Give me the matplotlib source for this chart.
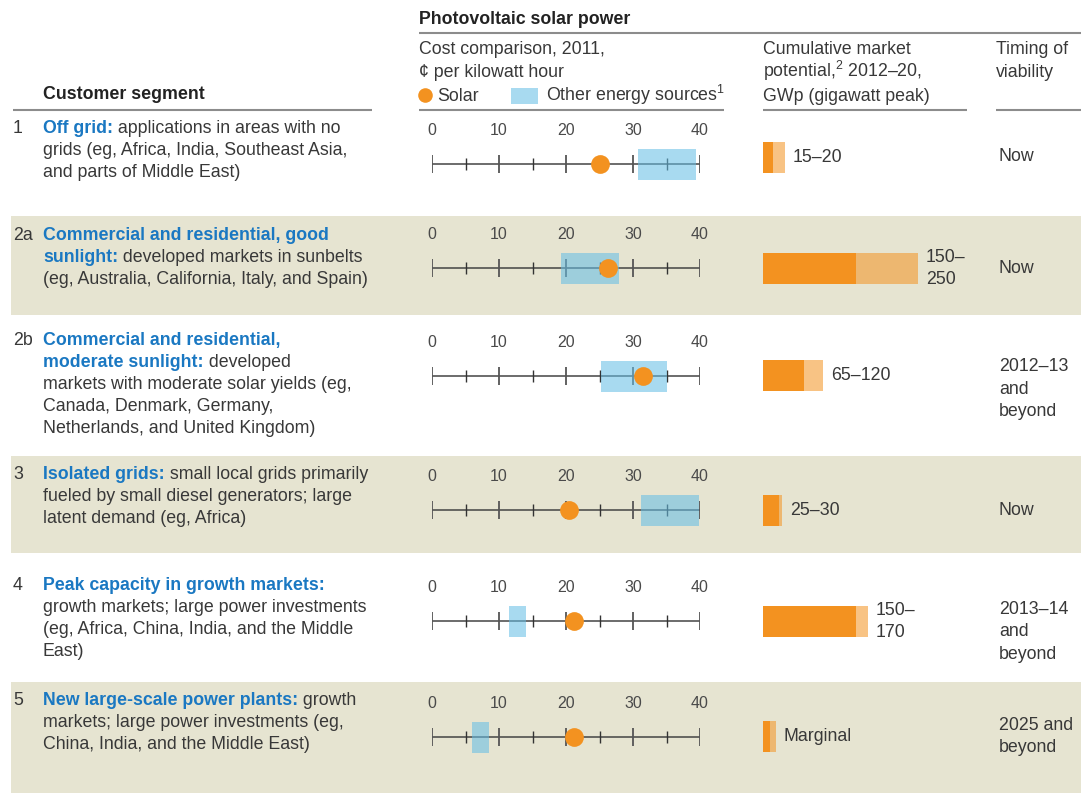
import matplotlib.pyplot as plt
from matplotlib.patches import Rectangle

W, H = 1091, 793

plt.rcParams['font.family'] = ['Liberation Sans', 'DejaVu Sans']
plt.rcParams['mathtext.fontset'] = 'custom'
plt.rcParams['mathtext.rm'] = 'Liberation Sans'

TXT = '#383838'
BLUE_TXT = '#1A78C2'
ORANGE = '#F39220'
SKY = '#66BEE5'
BEIGE = '#E6E4D1'
RULE = '#8C8C8C'
FS = 12.8

# Datos del gráfico
segment_ids = ["1", "2a", "2b", "3", "4", "5"]
segment_lines = [
    [("Off grid:", " applications in areas with no"),
     ("", "grids (eg, Africa, India, Southeast Asia,"),
     ("", "and parts of Middle East)")],
    [("Commercial and residential, good", ""),
     ("sunlight:", " developed markets in sunbelts"),
     ("", "(eg, Australia, California, Italy, and Spain)")],
    [("Commercial and residential,", ""),
     ("moderate sunlight:", " developed"),
     ("", "markets with moderate solar yields (eg,"),
     ("", "Canada, Denmark, Germany,"),
     ("", "Netherlands, and United Kingdom)")],
    [("Isolated grids:", " small local grids primarily"),
     ("", "fueled by small diesel generators; large"),
     ("", "latent demand (eg, Africa)")],
    [("Peak capacity in growth markets:", ""),
     ("", "growth markets; large power investments"),
     ("", "(eg, Africa, China, India, and the Middle"),
     ("", "East)")],
    [("New large-scale power plants:", " growth"),
     ("", "markets; large power investments (eg,"),
     ("", "China, India, and the Middle East)")],
]
cost_ticks = [0, 10, 20, 30, 40]
cost_minor = [5, 15, 25, 35]
solar_cost = [25.0, 26.3, 31.5, 20.4, 21.2, 21.2]
other_low = [30.7, 19.3, 25.2, 31.2, 11.5, 6.0]
other_high = [39.4, 27.9, 35.1, 39.9, 14.0, 8.5]
market_low = [16, 150, 66, 26, 150, 11]
market_high = [35, 250, 97, 31, 169, 21]
market_labels = ["15–20", "150–\n250", "65–120", "25–30", "150–\n170", "Marginal"]
timing = [["Now"], ["Now"], ["2012–13", "and", "beyond"], ["Now"],
          ["2013–14", "and", "beyond"], ["2025 and", "beyond"]]

# Disposición de las filas (pixeles)
band_top = [110, 216, 315, 456, 553, 682]
band_bottom = [216, 315, 456, 553, 682, 793]
shaded = [False, True, False, True, False, True]
text_base = [133, 240, 345, 479, 590, 705]
axis_y = [164, 268, 376, 510, 621, 737]
bar_y = [157.5, 268.5, 375.5, 510.5, 621.5, 736.5]
timing_base = [161, 273, 371, 515, 614, 730]

fig = plt.figure(figsize=(W / 100, H / 100), dpi=100)
ax = fig.add_axes([0, 0, 1, 1])
ax.set_xlim(0, W)
ax.set_ylim(H, 0)
ax.axis('off')
renderer = fig.canvas.get_renderer()


def px_axes(x0, y0, w, h):
    a = fig.add_axes([x0 / W, 1 - (y0 + h) / H, w / W, h / H])
    a.patch.set_visible(False)
    for s in a.spines.values():
        s.set_visible(False)
    a.set_yticks([])
    return a


def texto(x, y, s, **kw):
    opts = dict(fontsize=FS, color=TXT, va='baseline', ha='left')
    opts.update(kw)
    return ax.text(x, y, s, **opts)


# Encabezados
texto(419, 24, "Photovoltaic solar power", fontweight='bold', color='#222222')
ax.hlines(33, 419, 1081, color=RULE, lw=1.5)
texto(419, 54, "Cost comparison, 2011,")
texto(419, 77, "¢ per kilowatt hour")
ax.plot([425], [95], 'o', ms=10.5, color=ORANGE, mec='none')
texto(437, 101, "Solar")
ax.add_patch(Rectangle((511, 88), 27, 16, color=SKY, alpha=0.57, lw=0))
texto(546, 101, "Other energy sources$^1$")
texto(763, 54, "Cumulative market")
texto(763, 77, "potential,$^2$ 2012–20,")
texto(763, 101, "GWp (gigawatt peak)")
texto(996, 54, "Timing of")
texto(996, 77, "viability")
texto(43, 99, "Customer segment", fontweight='bold', color='#222222')
for x0, x1 in [(13, 372), (419, 724), (763, 967), (996, 1081)]:
    ax.hlines(110, x0, x1, color=RULE, lw=1.5)

for i in range(len(segment_ids)):
    if shaded[i]:
        ax.add_patch(Rectangle((11, band_top[i]), 1070, band_bottom[i] - band_top[i],
                               color=BEIGE, lw=0, zorder=0))

    # Descripción del segmento
    texto(13, text_base[i], segment_ids[i])
    for j, (negrita, normal) in enumerate(segment_lines[i]):
        y = text_base[i] + 22 * j
        x = 43
        if negrita:
            t = texto(x, y, negrita, fontweight='bold', color=BLUE_TXT)
            bb = t.get_window_extent(renderer)
            x = bb.x1
        if normal:
            texto(x, y, normal)

    # Comparación de costos
    cax = px_axes(432, axis_y[i] - 25, 268, 50)
    cax.set_xlim(cost_ticks[0], cost_ticks[-1])
    cax.set_ylim(-25, 25)
    cax.xaxis.tick_top()
    cax.set_xticks(cost_ticks)
    cax.tick_params(axis='x', length=0, pad=0.5, labelsize=11.5, labelcolor='#4a4a4a')
    cax.plot([cost_ticks[0], cost_ticks[-1]], [0, 0], color='#444444', lw=1.1, zorder=2)
    cax.vlines(cost_ticks, -9, 9, color='#555555', lw=1.3, zorder=2)
    cax.vlines(cost_minor, -6, 6, color='#333333', lw=1.0, zorder=2)
    cax.barh(0, other_high[i] - other_low[i], left=other_low[i], height=31,
             color=SKY, alpha=0.57, lw=0, zorder=3)
    cax.plot([solar_cost[i]], [0], 'o', ms=13.5, color=ORANGE, mec='none',
             zorder=4, clip_on=False)

    # Potencial de mercado
    max_ = px_axes(763, bar_y[i] - 25, 220, 50)
    max_.set_xlim(0, 220 / 0.62)
    max_.set_ylim(-25, 25)
    max_.set_xticks([])
    max_.barh(0, market_low[i], height=31, color=ORANGE, lw=0)
    max_.barh(0, market_high[i] - market_low[i], left=market_low[i], height=31,
              color=ORANGE, alpha=0.55, lw=0)
    max_.annotate(market_labels[i], xy=(market_high[i], 0), xytext=(5.5, 0),
                  textcoords='offset points', va='center', ha='left',
                  fontsize=FS, color=TXT, linespacing=1.35, annotation_clip=False)

    # Momento de viabilidad
    for j, linea in enumerate(timing[i]):
        texto(999, timing_base[i] + 22.5 * j, linea)

fig.savefig("out.png", dpi=100)
